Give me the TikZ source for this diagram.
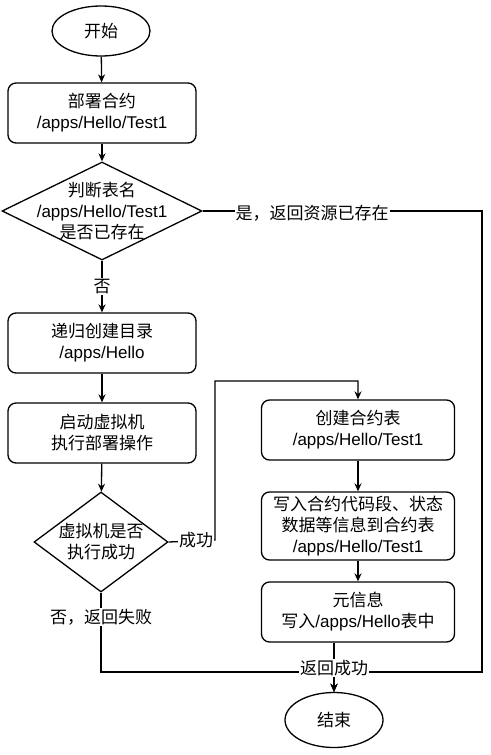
\documentclass[tikz,border=0pt]{standalone}
\usepackage{fontspec}
\setmainfont{Liberation Sans}
\newfontfamily\cjk{Noto Sans CJK SC}
\newcommand\zh[1]{{\cjk #1}}
\usetikzlibrary{shapes.geometric,arrows.meta}
\begin{document}
\begin{tikzpicture}[x=1pt,y=-1pt, line width=1.3pt,
  font=\fontsize{17}{21}\selectfont,
  box/.style={draw, rounded corners=8pt, minimum width=188pt, minimum height=60pt, align=center, inner sep=0pt},
  term/.style={draw, ellipse, minimum width=98pt, minimum height=50pt, inner sep=0pt},
  dia/.style={draw, diamond, inner sep=0pt},
  txt/.style={align=center, inner sep=0pt},
  arr/.style={-{Stealth[length=8pt,width=7pt]}},
  lbl/.style={fill=white, inner sep=1pt}]
\useasboundingbox (0,0) rectangle (490,755);
% nodes
\node[term] (start) at (101,31) {\zh{开始}};
\node[box] (b1) at (102,113) {\zh{部署合约}\\/apps/Hello/Test1};
\node[dia, minimum width=200pt, minimum height=98pt] (d1) at (102,211) {};
\node[txt] (d1t) at (102,211) {\zh{判断表名}\\/apps/Hello/Test1\\\zh{是否已存在}};
\node[box] (b2) at (102,343) {\zh{递归创建目录}\\/apps/Hello};
\node[box] (b3) at (102,433) {\zh{启动虚拟机}\\\zh{执行部署操作}};
\node[dia, minimum width=134pt, minimum height=100pt] (d2) at (101,542) {};
\node[txt] (d2t) at (101,542) {\zh{虚拟机是否}\\\zh{执行成功}};
\node[box, minimum width=193pt] (b4) at (358,430) {\zh{创建合约表}\\/apps/Hello/Test1};
\node[box, minimum width=193pt, minimum height=68pt] (b5) at (358,526) {\zh{写入合约代码段、状态}\\\zh{数据等信息到合约表}\\/apps/Hello/Test1};
\node[box, minimum width=193pt] (b6) at (358,612) {\zh{元信息}\\\zh{写入}/apps/Hello\zh{表中}};
\node[term, minimum height=55pt] (end) at (334,720) {\zh{结束}};
% helper coordinates
\coordinate (r1) at (482,211);
\coordinate (r2) at (482,672);
\coordinate (m) at (334,672);
\coordinate (l1) at (101,672);
\coordinate (s1) at (215,540);
\coordinate (s2) at (215,381);
\coordinate (s3) at (358,381);
% edges
\draw[arr] (start) -- (b1);
\draw[arr] (b1) -- (d1);
\draw[arr] (d1) -- node[lbl]{\zh{否}} (b2);
\draw[arr] (b2) -- (b3);
\draw[arr] (b3) -- (d2);
\draw[arr] (d2.east) -- (s1) -- (s2) -- (s3) -- (b4.north);
\node[lbl] (lc) at (196,540) {\zh{成功}};
\draw[arr] (b4) -- (b5);
\draw[arr] (b5) -- (b6);
\draw[arr] (b6.south -| end.north) -- (end.north);
\draw[arr] (d1.east) -- (r1) -- (r2) -- (m) -- (end.north);
\node[lbl] (ly) at (312,213) {\zh{是，返回资源已存在}};
\draw[arr] (d2.south) -- node[lbl,pos=0.31]{\zh{否，返回失败}} (l1) -- (m) -- (end.north);
\node[lbl] (ls) at (334,668) {\zh{返回成功}};
\end{tikzpicture}
\end{document}
